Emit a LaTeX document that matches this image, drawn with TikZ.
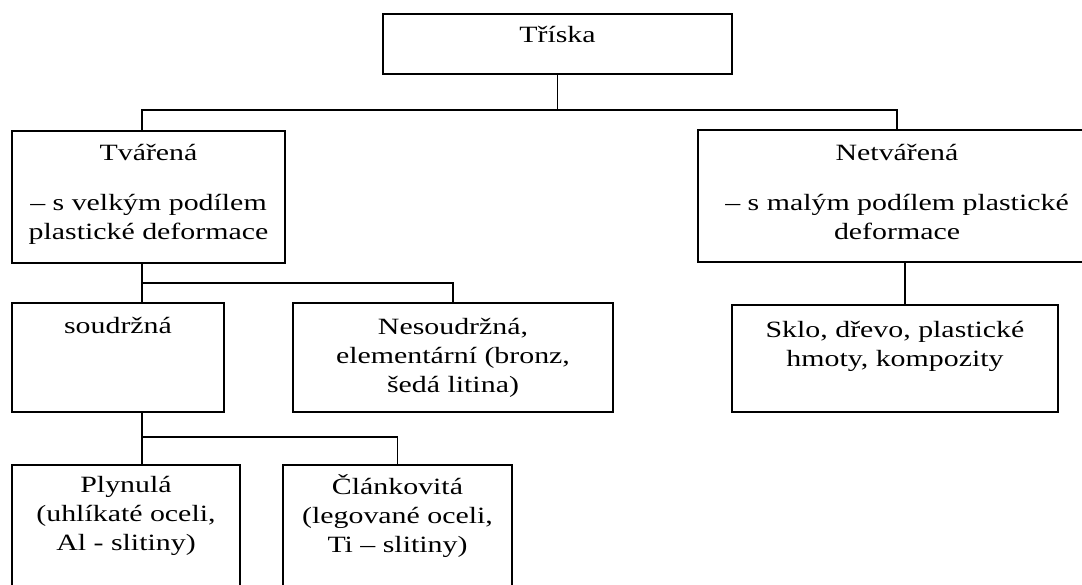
\documentclass[tikz,border=0pt]{standalone}
\usepackage{fontspec}
\setmainfont[FakeStretch=1.28]{Liberation Serif}
\newlength\px
\setlength\px{.75pt}
% box text: width, height, first baseline, lines (all in px)
\newcommand{\boxtext}[4]{\parbox[c][#2\px][t]{#1\px}{\centering\rule{0pt}{#3\px}#4}}

\begin{document}
\begin{tikzpicture}[x=.75pt,y=-.75pt,
  font=\fontsize{17.5pt}{22pt}\selectfont,
  box/.style={draw,line width=1.1pt,inner sep=0pt,outer sep=0pt,anchor=north west},
  link/.style={line width=1.1pt}]
  \useasboundingbox (0,0) rectangle (1082,585);
  \node[box] (triska) at (383,14) {\boxtext{349}{60}{29}{Tříska}};
  \node[box] (tvarena) at (12,131)
    {\boxtext{273}{132}{29}{Tvářená\\[15.5pt] – s velkým podílem\\ plastické deformace}};
  \node[box] (netvarena) at (698,130)
    {\boxtext{398}{132}{30}{Netvářená\\[15.5pt] – s malým podílem plastické\\ deformace}};
  \node[box] (soudrzna) at (12,303) {\boxtext{212}{109}{30}{soudržná}};
  \node[box] (nesoudrzna) at (293,303)
    {\boxtext{320}{109}{31}{Nesoudržná,\\ elementární (bronz,\\ šedá litina)}};
  \node[box] (sklo) at (732,305)
    {\boxtext{326}{107}{32}{Sklo, dřevo, plastické\\ hmoty, kompozity}};
  \node[box] (plynula) at (12,465)
    {\boxtext{228}{140}{27}{Plynulá\\ (uhlíkaté oceli,\\ Al - slitiny)}};
  \node[box] (clankovita) at (283,465)
    {\boxtext{229}{140}{29}{Článkovitá\\ (legované oceli,\\ Ti – slitiny)}};
  % junctions of the connectors
  \coordinate (top) at (142,110);
  \coordinate (mid) at (142,283);
  \coordinate (low) at (142,437);
  \coordinate (right) at (905,284);
  \draw[link] (triska.south) -- (triska.south |- top);
  \draw[link] (tvarena.north -| top) -- (top) -| (netvarena.north);
  \draw[link] (tvarena.south -| mid) -- (mid) -| (nesoudrzna.north);
  \draw[link] (mid) -- (soudrzna.north -| mid);
  \draw[link] (soudrzna.south -| low) -- (low) -| (clankovita.north);
  \draw[link] (low) -- (plynula.north -| low);
  \draw[link] (netvarena.south -| right) -- (sklo.north -| right);
\end{tikzpicture}
\end{document}
